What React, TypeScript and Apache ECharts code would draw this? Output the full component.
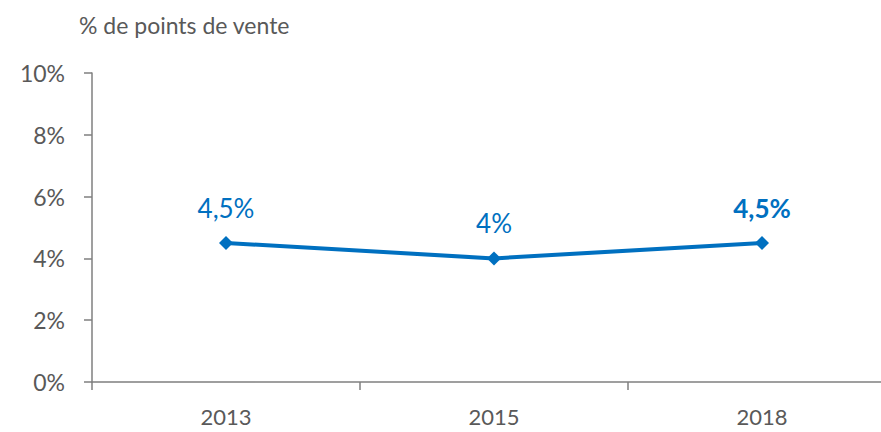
import React, { useEffect, useRef } from "react";
import * as echarts from "echarts";

const categories = ["2013", "2015", "2018"];
const values = [4.5, 4, 4.5];
const labels = ["4,5%", "4%", "4,5%"];
const boldIndex = [2];
const yTitle = "% de points de vente";

const FONT = "Lato, 'Open Sans', sans-serif";
const BLUE = "#0070C0";
const GREY = "#595959";

export default function App() {
  const ref = useRef<HTMLDivElement>(null);
  useEffect(() => {
    if (!ref.current) return;
    const chart = echarts.init(ref.current, undefined, { renderer: "svg" });
    chart.setOption({
      animation: false,
      textStyle: { fontFamily: FONT },
      graphic: [
        {
          type: "text",
          left: 79,
          top: 13,
          style: { text: yTitle, fill: GREY, font: `23px ${FONT}` },
        },
      ],
      grid: { left: 92, width: 804, top: 73, bottom: 50, containLabel: false },
      xAxis: {
        type: "category",
        data: categories,
        boundaryGap: true,
        axisLine: { lineStyle: { color: "#7f7f7f", width: 1.5 } },
        axisTick: { show: true, length: 8, inside: false, lineStyle: { color: "#7f7f7f", width: 1.5 } },
        axisLabel: { color: GREY, fontSize: 22, margin: 23, fontFamily: FONT },
      },
      yAxis: {
        type: "value",
        min: 0,
        max: 10,
        interval: 2,
        splitLine: { show: false },
        axisLine: { show: true, lineStyle: { color: "#7f7f7f", width: 1.5 } },
        axisTick: { show: true, length: 8, lineStyle: { color: "#7f7f7f", width: 1.5 } },
        axisLabel: {
          color: GREY,
          fontSize: 23,
          margin: 27,
          fontFamily: FONT,
          formatter: (v: number) => `${v}%`,
        },
      },
      series: [
        {
          type: "line",
          data: values.map((v, i) => ({
            value: v,
            label: {
              show: true,
              position: "top",
              distance: 15,
              formatter: labels[i],
              color: BLUE,
              fontSize: 26,
              fontFamily: FONT,
              fontWeight: boldIndex.includes(i) ? "bold" : "normal",
            },
          })),
          lineStyle: { color: BLUE, width: 4 },
          itemStyle: { color: BLUE },
          symbol: "diamond",
          symbolSize: 14,
        },
      ],
    });
    return () => chart.dispose();
  }, []);
  return (
    <div
      style={{
        position: "fixed",
        left: 0,
        top: 0,
        width: 881,
        height: 432,
        overflow: "hidden",
        background: "#fff",
      }}
    >
      <div ref={ref} style={{ width: 900, height: 432 }} />
    </div>
  );
}
